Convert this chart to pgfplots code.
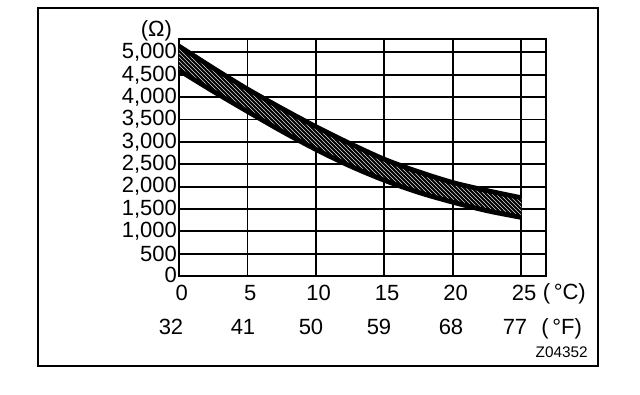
\documentclass[border=0pt]{standalone}
\usepackage{fontspec}
\setmainfont{Liberation Sans}
\usepackage{pgfplots}
\usepackage{pgfplotstable}
\pgfplotsset{compat=1.18}
\usepgfplotslibrary{fillbetween}
\usetikzlibrary{patterns}
\pgfplotstableread{
x    u     l
0    5140  4600
2.5  4650  4130
5    4180  3680
7.5  3750  3240
10   3340  2830
12.5 2960  2460
15   2610  2140
17.5 2330  1870
20   2090  1650
22.5 1910  1460
25   1750  1310
}\band
\begin{document}
\begin{tikzpicture}
\begin{axis}[
  at={(0,0)}, anchor=south west,
  scale only axis, width=275.25pt, height=177.75pt,
  xmin=0, xmax=26.8, ymin=0, ymax=5300,
  xtick={0,5,...,25}, ytick={500,1000,...,5000},
  extra y ticks={0}, extra y tick style={grid=none, yticklabel style={yshift=1pt}},
  grid=major, major grid style={black, line width=1.4pt},
  axis line style={black, line width=0.8pt},
  major tick length=0pt,
  tick label style={font=\fontsize{16.5}{17}\selectfont},
  /pgf/number format/assume math mode=true,
  /pgf/number format/1000 sep={,},
  yticklabel style={xshift=2pt},
  xticklabel style={anchor=north, text height=12pt, text depth=0pt, yshift=-3pt, xshift=2pt},
]
\addplot[name path=U, draw=none, smooth] table[x=x, y=u] {\band};
\addplot[name path=L, draw=none, smooth] table[x=x, y=l] {\band};
\addplot[fill=black] fill between[of=U and L];
\addplot[pattern=north west lines, pattern color=white!85!black] fill between[of=U and L];
\addplot[black, line width=3.6pt, smooth] table[x=x, y=u] {\band};
\addplot[black, line width=3.6pt, smooth] table[x=x, y=l] {\band};
\end{axis}
\begin{scope}[font=\fontsize{16.5}{17}\selectfont, text height=12pt, text depth=3pt]
\node at (-6pt,-39pt) {32};
\node at (48pt,-39pt) {41};
\node at (99pt,-39pt) {50};
\node at (150pt,-39pt) {59};
\node at (204pt,-39pt) {68};
\node at (252pt,-39pt) {77};
\node at (289pt,-13pt) {(\,°C)};
\node at (287pt,-39pt) {(\,°F)};
\node at (-17pt,184pt) {(Ω)};
\end{scope}
\node[font=\fontsize{11.5}{13}\selectfont] at (287pt,-57pt) {Z04352};
\draw[line width=2pt] (-105.75pt,-67.5pt) rectangle (314.25pt,201pt);
\path (-134.25pt,-88.5pt) rectangle (345.75pt,207pt);
\end{tikzpicture}
\end{document}
